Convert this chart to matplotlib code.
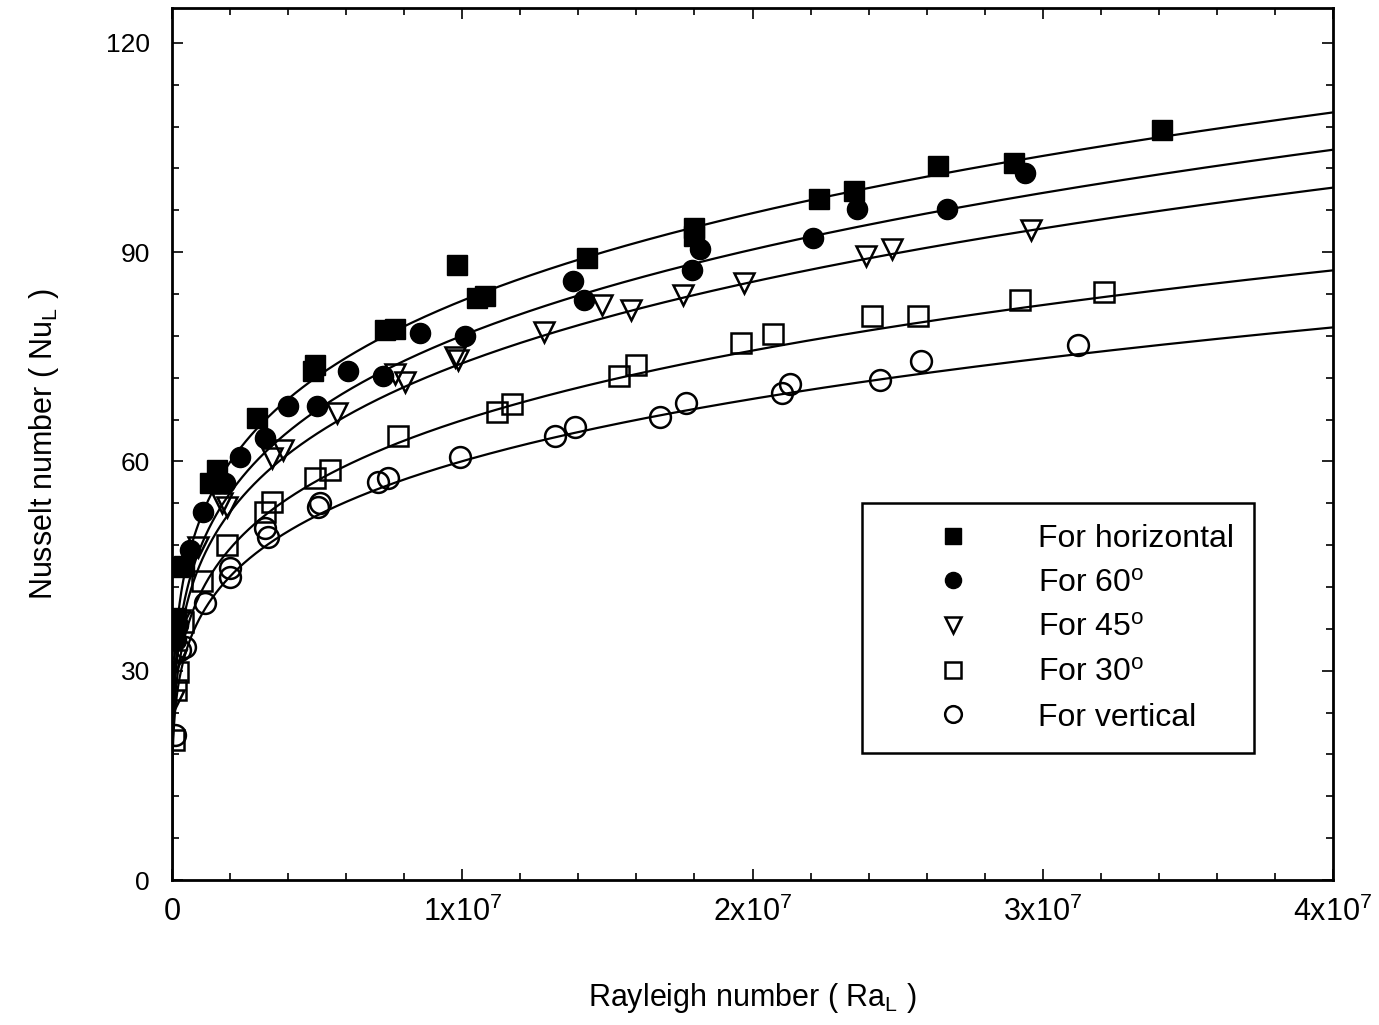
import numpy as np
import matplotlib
matplotlib.use("Agg")
import matplotlib.pyplot as plt
from matplotlib import font_manager
from matplotlib.ticker import MultipleLocator, FixedLocator, FixedFormatter

names = {f.name for f in font_manager.fontManager.ttflist}
NARROW = 'Liberation Sans Narrow' if 'Liberation Sans Narrow' in names else 'Liberation Sans'
plt.rcParams['font.family'] = [NARROW, 'Liberation Sans', 'DejaVu Sans']
plt.rcParams['mathtext.fontset'] = 'custom'
plt.rcParams['mathtext.rm'] = NARROW
plt.rcParams['mathtext.it'] = NARROW
plt.rcParams['mathtext.bf'] = NARROW

# ---------------- data ----------------
ra_horizontal = [1.38e5, 2.07e5, 4.13e5, 1.31e6, 1.54e6, 2.92e6, 4.86e6, 4.93e6, 7.34e6, 7.68e6,
                 9.82e6, 1.05e7, 1.08e7, 1.43e7, 1.80e7, 1.80e7, 2.23e7, 2.35e7, 2.64e7, 2.90e7, 3.41e7]
nu_horizontal = [37.6, 44.9, 45.0, 56.9, 58.8, 66.2, 72.9, 73.8, 78.9, 79.0,
                 88.2, 83.4, 83.7, 89.1, 93.5, 92.3, 97.6, 98.8, 102.4, 102.8, 107.5]

ra_60 = [1.38e5, 2.07e5, 6.2e5, 1.07e6, 1.83e6, 2.34e6, 3.20e6, 4.00e6, 4.99e6, 6.06e6, 7.27e6,
         8.54e6, 1.01e7, 1.38e7, 1.42e7, 1.79e7, 1.82e7, 2.21e7, 2.36e7, 2.67e7, 2.94e7]
nu_60 = [34.4, 36.6, 47.3, 52.8, 56.9, 60.7, 63.4, 67.9, 67.9, 72.9, 72.3,
         78.4, 78.0, 85.8, 83.2, 87.4, 90.5, 92.0, 96.2, 96.2, 101.4]

ra_45 = [6.9e4, 1.38e5, 2.76e5, 8.96e5, 1.71e6, 1.88e6, 3.43e6, 3.82e6, 5.67e6, 7.68e6, 8.03e6,
         9.75e6, 9.85e6, 1.28e7, 1.48e7, 1.58e7, 1.76e7, 1.97e7, 2.39e7, 2.48e7, 2.96e7]
nu_45 = [25.8, 31.5, 37.3, 47.8, 54.0, 53.5, 60.5, 61.6, 67.0, 72.6, 71.4,
         75.0, 74.6, 78.6, 82.4, 81.7, 83.9, 85.6, 89.4, 90.5, 93.2]

ra_30 = [6.9e4, 1.38e5, 2.07e5, 3.8e5, 1.02e6, 1.88e6, 3.20e6, 3.43e6, 4.93e6, 5.44e6, 7.79e6,
         1.12e7, 1.17e7, 1.54e7, 1.60e7, 1.96e7, 2.07e7, 2.41e7, 2.57e7, 2.92e7, 3.21e7]
nu_30 = [20.1, 27.2, 29.8, 37.0, 42.8, 48.0, 52.8, 54.2, 57.6, 58.8, 63.6,
         67.1, 68.3, 72.3, 73.8, 77.0, 78.2, 80.8, 80.8, 83.2, 84.3]

ra_vertical = [1.0e5, 2.76e5, 4.48e5, 1.14e6, 2.0e6, 2.0e6, 3.20e6, 3.31e6, 5.03e6, 5.10e6, 7.10e6,
               7.44e6, 9.92e6, 1.32e7, 1.39e7, 1.68e7, 1.77e7, 2.10e7, 2.13e7, 2.44e7, 2.58e7, 3.12e7]
nu_vertical = [20.8, 33.0, 33.4, 39.7, 44.7, 43.5, 50.5, 49.2, 53.5, 54.0, 57.1,
               57.6, 60.7, 63.6, 65.0, 66.4, 68.4, 69.8, 71.1, 71.7, 74.4, 76.7]

# power-law fit curves Nu = C * Ra^n (coefficients)
fit_C = [3.15, 2.56, 2.47, 2.48, 2.39]
fit_n = [0.203, 0.212, 0.211, 0.2035, 0.200]

labels = ['For horizontal', 'For 60$^{\\mathrm{o}}$', 'For 45$^{\\mathrm{o}}$',
          'For 30$^{\\mathrm{o}}$', 'For vertical']
x_ticks = [0, 1e7, 2e7, 3e7, 4e7]
x_ticklabels = ['0', '1x10$^{7}$', '2x10$^{7}$', '3x10$^{7}$', '4x10$^{7}$']
y_ticks = [0, 30, 60, 90, 120]

# ---------------- figure ----------------
fig = plt.figure(figsize=(13.79, 10.25), dpi=100)
ax = fig.add_axes([172/1379, 1-880/1025, (1333-172)/1379, (880-8)/1025])

ra_curve = np.concatenate(([0.0], np.geomspace(1, 4e7, 3000)))
for C, n in zip(fit_C, fit_n):
    ax.plot(ra_curve, C * ra_curve**n, color='black', lw=1.6, zorder=2)

series = [
    (ra_horizontal, nu_horizontal, dict(marker='s', ms=14, mfc='black', mec='black', mew=1.0)),
    (ra_60, nu_60, dict(marker='o', ms=14.5, mfc='black', mec='black', mew=1.0)),
    (ra_45, nu_45, dict(marker='v', ms=14, mfc='none', mec='black', mew=1.8)),
    (ra_30, nu_30, dict(marker='s', ms=14, mfc='none', mec='black', mew=1.8)),
    (ra_vertical, nu_vertical, dict(marker='o', ms=15, mfc='none', mec='black', mew=1.8)),
]
for (xs, ys, st), lab in zip(series, labels):
    ax.plot(xs, ys, ls='none', label=lab, zorder=3, **st)

ax.set_xlim(0, 4e7)
ax.set_ylim(0, 125)

ax.xaxis.set_major_locator(FixedLocator(x_ticks))
ax.xaxis.set_major_formatter(FixedFormatter(x_ticklabels))
ax.xaxis.set_minor_locator(MultipleLocator(2e6))
ax.yaxis.set_major_locator(FixedLocator(y_ticks))
ax.yaxis.set_minor_locator(MultipleLocator(6))

ax.tick_params(which='both', direction='in', top=True, right=True, width=1.2, color='black')
ax.tick_params(which='major', length=8)
ax.tick_params(which='minor', length=5)
ax.tick_params(axis='x', which='major', labelsize=22, pad=12)
ax.tick_params(axis='y', which='major', labelsize=19, pad=16)
for t in ax.get_yticklabels():
    t.set_family(['Liberation Sans', 'DejaVu Sans'])

for sp in ax.spines.values():
    sp.set_linewidth(2.0)

ax.set_xlabel('Rayleigh number ( Ra$_{\\mathrm{L}}$ )', fontsize=22, labelpad=38)
ax.set_ylabel('Nusselt number ( Nu$_{\\mathrm{L}}$ )', fontsize=22, labelpad=32)

leg = ax.legend(loc='upper left', bbox_to_anchor=((862-172)/1161, (880-503)/872),
                frameon=True, fancybox=False, edgecolor='black', fontsize=23,
                markerscale=0.8, handlelength=4.4, handletextpad=0.45,
                borderpad=0.65, labelspacing=0.46, borderaxespad=0.0,
                framealpha=1.0)
leg.get_frame().set_linewidth(1.8)

fig.savefig('out.png', dpi=100)
